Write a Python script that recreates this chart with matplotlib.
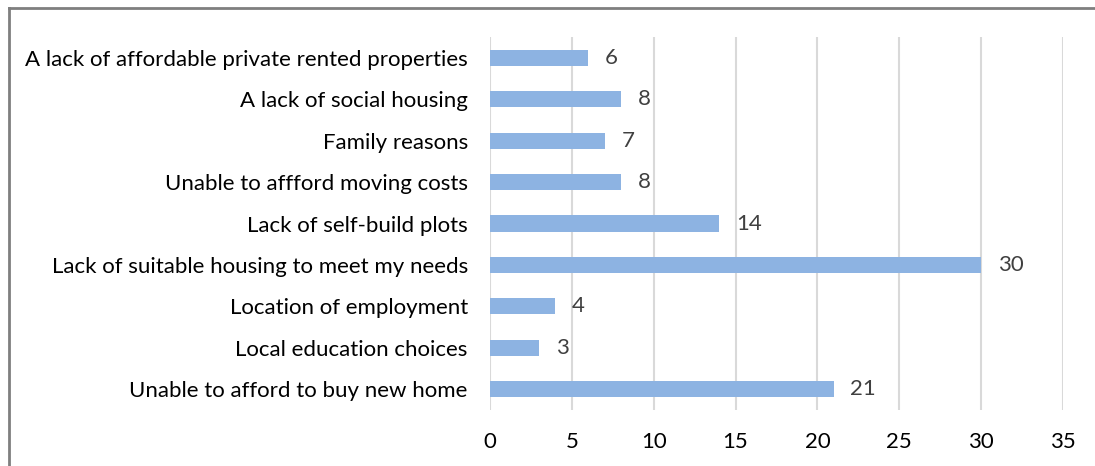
import matplotlib.pyplot as plt
from matplotlib.lines import Line2D

categories = ['A lack of affordable private rented properties',
              'A lack of social housing',
              'Family reasons',
              'Unable to affford moving costs',
              'Lack of self-build plots',
              'Lack of suitable housing to meet my needs',
              'Location of employment',
              'Local education choices',
              'Unable to afford to buy new home']
values = [6, 8, 7, 8, 14, 30, 4, 3, 21]

plt.rcParams['font.family'] = ['Lato', 'DejaVu Sans']

fig = plt.figure(figsize=(10.95, 4.66), dpi=100)
ax = fig.add_axes([490/1095, 1-410/466, 573/1095, 373/466])

y = list(range(len(categories)))[::-1]
ax.barh(y, values, height=0.39, color='#8db3e2', zorder=3)
for yi, v in zip(y, values):
    ax.annotate(str(v), (v, yi), xytext=(12, 0), textcoords='offset points',
                va='center', ha='left', fontsize=16, color='#404040')

ax.set_yticks(y)
ax.set_yticklabels(categories, fontsize=16, color='#000000')
ax.set_ylim(-0.5, len(categories) - 0.5)
ax.set_xlim(0, 35)
ax.set_xticks(range(0, 36, 5))
ax.tick_params(axis='x', labelsize=16, length=0, pad=16)
ax.tick_params(axis='y', length=0, pad=16)
ax.grid(axis='x', color='#d9d9d9', linewidth=1.5, zorder=0)
for s in ax.spines.values():
    s.set_visible(False)

# outer frame
fig.add_artist(Line2D([9/1095, 9/1095], [0, 1-8/466], color='#7f7f7f', lw=2, transform=fig.transFigure))
fig.add_artist(Line2D([9/1095, 1], [1-8/466, 1-8/466], color='#7f7f7f', lw=2, transform=fig.transFigure))

fig.savefig('out.png', dpi=100)
